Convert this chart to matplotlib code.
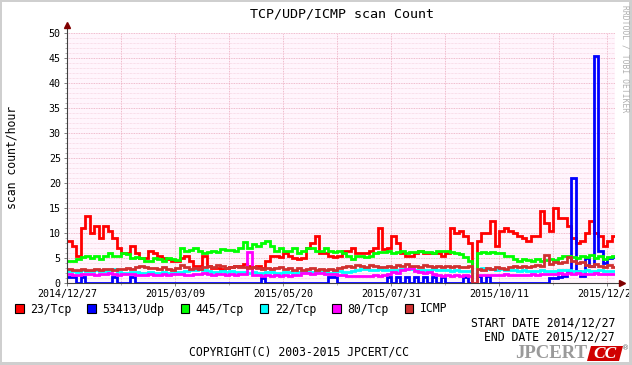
import numpy as np
import matplotlib
matplotlib.use('Agg')
import matplotlib.pyplot as plt
from matplotlib.patches import Rectangle, Polygon

# values every 3 days from 2014/12/27
red_23tcp = [8.5, 7.5, 5.5, 11, 13.5, 10, 11.5, 9, 11.5, 10.5, 9, 7, 6, 6, 7.5, 6, 5, 5, 6.5, 6,
             5.5, 5, 4.8, 4.5, 4.5, 5, 5.5, 4.5, 3.5, 3.5, 5.5, 3.5, 3, 3, 2.8, 3, 3.3, 3.5, 3.5, 3.8,
             3.5, 3.3, 3.5, 3, 4.5, 5.5, 5.5, 5.3, 6, 5.5, 5, 4.8, 5, 7, 8, 9.5, 6, 6, 5.5, 5.2,
             5.5, 6.5, 6.5, 7, 6, 6, 6, 6.5, 7, 11, 6.8, 7, 9.5, 8, 6, 5.5, 5.5, 6, 6.5, 6,
             6, 6, 6, 5.5, 6, 11, 10, 10.5, 9.5, 8, 0, 8.5, 10, 10, 12.5, 7.5, 10.5, 11, 10.5, 10,
             9.5, 9, 8.5, 9.5, 9.5, 14.5, 12, 10.5, 15, 13, 13, 11.5, 9, 8, 8.5, 10, 12.5, 10, 9.5, 7.5,
             8.5, 9.5]
blue_53413udp = [1.2, 1.2, 0, 1.2, 0, 0, 0, 0, 0, 0, 1.2, 0, 0, 0, 1.2, 0, 0, 0, 0, 0,
                 0, 0, 0, 0, 0, 0, 0, 0, 0, 0, 0, 0, 0, 0, 0, 0, 0, 0, 0, 0,
                 0, 0, 0, 1.0, 0, 0, 0, 0, 0, 0, 0, 0, 0, 0, 0, 0, 0, 0, 1.2, 1.2,
                 0, 0, 0, 0, 0, 0, 0, 0, 0, 0, 0, 1.2, 0, 1.2, 0, 1.2, 0, 1.2, 0, 1.2,
                 0, 1.2, 0, 1.2, 0, 0, 0, 0, 1.2, 0, 0, 1.5, 0, 1.5, 0, 0, 0, 0, 0, 0,
                 0, 0, 0, 0, 0, 0, 0, 1, 1, 1.2, 1.5, 2.5, 21, 2.5, 1.5, 5, 3.5, 45.5, 6.5, 4,
                 5, 5.3]
green_445tcp = [4.5, 4.5, 4.8, 5.2, 5.5, 5, 5.5, 4.8, 5.5, 6, 5.5, 5.5, 6, 5.8, 5, 5.3, 5, 4.5, 4.5, 5,
                4.8, 4.5, 5, 4.8, 4.6, 7, 6.5, 6.7, 7, 6.5, 6, 6.3, 6.5, 6.3, 6.8, 6.6, 6.7, 6.5, 7, 8.2,
                7, 7.8, 7.5, 8, 8.5, 7.5, 6.5, 7, 6.5, 6.5, 7, 6, 6.5, 7, 7, 6.5, 6.5, 7, 6.5, 6.3,
                6.5, 6, 5.5, 4.8, 5.5, 5.5, 5.3, 5.5, 6, 6.3, 6.2, 6.5, 6, 6.2, 6.5, 6, 6.3, 6.2, 6.5, 6.3,
                6.2, 6, 6.5, 6.5, 6.5, 6.2, 6, 5.8, 5.2, 4.5, 0, 6, 6.3, 6, 6.3, 6, 6, 5.5, 5.5, 4.8,
                4.5, 4.8, 4.6, 4.5, 4.8, 4.5, 4.7, 4.8, 4.6, 5, 5.5, 5.5, 5.2, 5, 5.4, 5.3, 5.6, 5, 5.5, 4.8,
                5.3, 5.5]
cyan_22tcp = [2.5, 2.5, 2.3, 2.6, 2.5, 2.4, 2.6, 2.5, 2.4, 2.6, 2.8, 2.3, 2.0, 2.0, 2.2, 2.3, 2.0, 2.0, 2.2, 2.1,
              2.0, 2.2, 2.0, 2.1, 2.3, 2.2, 2.5, 2.6, 2.7, 2.8, 2.6, 2.4, 2.3, 2.2, 2.4, 2.3, 2.5, 2.3, 2.2, 2.3,
              2.1, 2.2, 2.0, 2.1, 2.3, 2.2, 2.1, 2.0, 2.2, 2.3, 2.1, 2.2, 2.4, 2.3, 2.2, 2.4, 2.2, 2.3, 2.1, 2.2,
              2.4, 2.3, 2.2, 2.4, 2.6, 2.8, 2.9, 2.7, 2.6, 2.8, 2.7, 2.6, 2.7, 2.6, 2.8, 2.9, 2.8, 2.6, 2.7, 2.6,
              2.7, 2.8, 2.6, 2.7, 2.6, 2.5, 2.6, 2.5, 2.4, 2.5, 0, 2.9, 3.0, 2.8, 2.9, 2.7, 2.8, 2.6, 2.7, 2.6,
              2.5, 2.6, 2.5, 2.4, 2.5, 2.6, 2.5, 2.4, 2.5, 2.6, 2.7, 2.6, 2.5, 2.4, 2.5, 2.6, 2.5, 2.4, 2.6, 2.5,
              2.4, 2.5]
magenta_80tcp = [1.8, 1.7, 1.6, 1.8, 1.9, 1.8, 1.7, 1.8, 1.9, 2.0, 1.8, 1.7, 1.8, 1.9, 1.8, 1.7, 1.6, 1.7, 1.8, 1.7,
                 1.6, 1.8, 1.7, 1.8, 1.9, 1.8, 1.7, 1.6, 1.8, 1.9, 2.0, 1.8, 1.7, 1.9, 1.8, 1.6, 1.8, 1.7, 1.9, 1.8,
                 6.2, 1.7, 1.6, 1.5, 1.6, 1.5, 1.6, 1.4, 1.6, 1.5, 1.6, 1.7, 2.0, 2.1, 1.9, 2.0, 2.1, 1.9, 1.8, 1.9,
                 1.7, 1.6, 1.5, 1.4, 1.5, 1.4, 1.5, 1.4, 1.6, 1.5, 1.6, 1.8, 2.2, 2.0, 2.6, 2.8, 3.0, 2.4, 2.2, 2.0,
                 2.2, 1.8, 1.6, 1.5, 1.6, 1.5, 1.6, 1.5, 1.6, 1.5, 0, 1.6, 1.7, 1.6, 1.7, 1.6, 1.7, 1.8, 1.7, 1.6,
                 1.7, 1.6, 1.7, 1.8, 1.7, 1.8, 1.9, 1.8, 1.9, 2.0, 1.9, 2.0, 1.9, 2.0, 1.9, 1.8, 1.9, 2.0, 1.9, 1.8,
                 1.9, 1.9]
icmp = [2.8, 2.6, 2.7, 2.9, 2.7, 2.6, 2.8, 2.7, 2.9, 2.8, 2.7, 2.9, 2.8, 3.0, 2.8, 3.2, 3.5, 3.3, 3.0, 3.1,
        2.9, 3.2, 2.8, 2.7, 3.0, 3.6, 3.2, 2.8, 3.0, 2.9, 3.3, 3.5, 3.2, 3.6, 3.4, 3.0, 3.3, 3.5, 3.2, 3.3,
        3.0, 3.2, 3.1, 2.9, 3.0, 2.8, 3.0, 3.3, 2.9, 3.0, 2.7, 3.0, 2.6, 2.8, 3.0, 2.7, 2.9, 2.6, 2.8, 2.7,
        3.0, 3.3, 3.5, 3.3, 3.6, 3.4, 3.2, 3.6, 3.4, 3.3, 3.2, 3.4, 3.3, 3.6, 3.5, 3.8, 3.4, 3.5, 3.3, 3.6,
        3.4, 3.3, 3.5, 3.2, 3.4, 3.3, 3.5, 3.3, 3.2, 3.4, 0, 2.8, 2.7, 3.0, 2.9, 3.3, 3.1, 2.9, 3.2, 3.4,
        3.3, 3.5, 3.2, 3.4, 3.6, 3.5, 5.6, 3.8, 4.2, 4.0, 4.3, 5.2, 4.4, 4.0, 4.3, 3.6, 3.4, 3.9, 3.5, 3.3,
        3.6, 3.2]

labels = ['23/Tcp', '53413/Udp', '445/Tcp', '22/Tcp', '80/Tcp', 'ICMP']
colors = ['#ff0000', '#0000ff', '#00ff00', '#00ffff', '#ff00ff', '#d03030']
series = [red_23tcp, blue_53413udp, green_445tcp, cyan_22tcp, magenta_80tcp, icmp]

tick_days = [0, 72, 144, 216, 288, 360]
tick_labels = ['2014/12/27', '2015/03/09', '2015/05/20', '2015/07/31', '2015/10/11', '2015/12/22']

W, H = 632, 365
mono = 'DejaVu Sans Mono'


def fx(x):
    return x / W


def fy(y):
    return 1 - y / H


fig = plt.figure(figsize=(W / 100, H / 100), dpi=100, facecolor='white')

# frame
for r in [(0, 0, 2, H), (0, 0, W, 2), (W - 3, 0, 3, H), (0, H - 3, W, 3)]:
    fig.patches.append(Rectangle((fx(r[0]), fy(r[1] + r[3])), r[2] / W, r[3] / H,
                                 transform=fig.transFigure, color='#cfcfcf', lw=0))

ax = fig.add_axes([fx(67), fy(283), (614.5 - 67) / W, 250 / H])
ax.set_facecolor('#fff5fc')

days = np.arange(len(red_23tcp)) * 3
for vals, c in zip(series, colors):
    ax.step(np.append(days, days[-1] + 3), np.append(vals, vals[-1]), where='post',
            color=c, lw=2.0, solid_joinstyle='miter')

ax.set_xticks(tick_days)
ax.set_xticklabels(tick_labels)
ax.set_xticks([d + 36 for d in tick_days[:-1]], minor=True)
ax.set_yticks(np.arange(0, 51, 5))
ax.set_yticks(np.arange(0, 51, 1), minor=True)
ax.set_xlim(0, 365)
ax.set_ylim(0, 50)
ax.grid(True, which='major', axis='both', color='#eaa8bc', ls=(0, (1, 1)), lw=0.6)
ax.grid(True, which='minor', axis='x', color='#eaa8bc', ls=(0, (1, 1)), lw=0.6)
ax.grid(True, which='minor', axis='y', color='#f4c8d8', ls=(0, (1, 1)), lw=0.5)
ax.set_axisbelow(True)
ax.tick_params(which='major', length=2.5, width=0.7, color='#808080', pad=2,
               labelsize=7.2, labelfontfamily=mono)
ax.tick_params(which='minor', length=1.5, width=0.6, color='#a0a0a0')
for s in ['top', 'right', 'left', 'bottom']:
    ax.spines[s].set_visible(False)

# axes with arrows
ax.plot([0, 0], [0, 51.5], color='#404040', lw=0.8, clip_on=False, zorder=5)
ax.plot([0, 369], [0, 0], color='#404040', lw=0.8, clip_on=False, zorder=1)
ax.plot([0], [51.6], marker='^', ms=4.5, color='#800000', clip_on=False, zorder=6)
ax.plot([370], [0], marker='>', ms=4.5, color='#800000', clip_on=False, zorder=6)

fig.text(fx(342), fy(14), 'TCP/UDP/ICMP scan Count', ha='center', va='center',
         fontsize=9.6, family=mono)
fig.text(fx(12), fy(157), 'scan count/hour', rotation=90, ha='center', va='center',
         fontsize=8.3, family=mono)
fig.text(fx(625), fy(5), 'RRDTOOL / TOBI OETIKER', rotation=270, ha='center', va='top',
         fontsize=5.8, family=mono, color='#b0b0b0')

# legend
lx = 15
for lab, c in zip(labels, colors):
    fig.patches.append(Rectangle((fx(lx), fy(313)), 8.5 / W, 9 / H, transform=fig.transFigure,
                                 fc=c, ec='black', lw=0.8))
    fig.text(fx(lx + 15), fy(309), lab, ha='left', va='center', fontsize=8.3, family=mono)
    lx += 15 + len(lab) * 6.9 + 16

fig.text(fx(615), fy(323), 'START DATE 2014/12/27', ha='right', va='center', fontsize=8.3, family=mono)
fig.text(fx(615), fy(337), 'END DATE 2015/12/27', ha='right', va='center', fontsize=8.3, family=mono)
fig.text(fx(189), fy(352), 'COPYRIGHT(C) 2003-2015 JPCERT/CC', ha='left', va='center',
         fontsize=8.3, family=mono)

# logo
fig.text(fx(515), fy(354), 'JPCERT', ha='left', va='center', fontsize=13.5, fontweight='bold',
         family='Liberation Serif', color='#9a9a9a')
fig.patches.append(Polygon([(fx(587), fy(361)), (fx(619), fy(361)), (fx(623), fy(346)), (fx(591), fy(346))],
                           closed=True, transform=fig.transFigure, fc='#d00000', ec='none'))
fig.text(fx(605), fy(354), 'CC', ha='center', va='center', fontsize=12.5, fontweight='bold',
         fontstyle='italic', family='Liberation Serif', color='white')
fig.text(fx(626), fy(348), '®', ha='center', va='center', fontsize=5, color='#606060')

fig.savefig('out.png', dpi=100, facecolor='white')
